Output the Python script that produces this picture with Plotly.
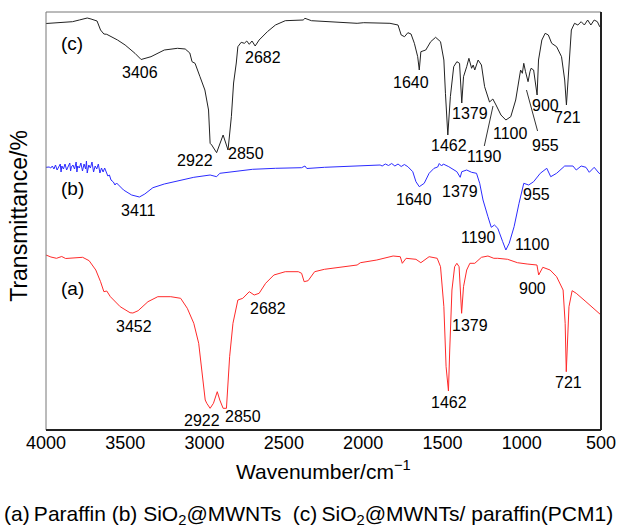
import plotly.graph_objects as go

# ---------------- data (wavenumber in cm-1, transmittance in arbitrary offset units) ----------------
wn_c = [4000, 3938, 3876, 3833, 3790, 3740, 3716, 3678, 3656, 3635, 3617, 3594, 3549, 3501, 3439, 3400,
        3338, 3254, 3171, 3122, 3093, 3079, 3060, 3029, 2998, 2975, 2965, 2955, 2924, 2883, 2852, 2831,
        2817, 2800, 2790, 2769, 2749, 2734, 2718, 2701, 2681, 2656, 2604, 2553, 2491, 2378, 2367, 2326,
        2182, 2038, 1996, 1831, 1780, 1760, 1739, 1718, 1698, 1677, 1656, 1646, 1636, 1605, 1574, 1543,
        1512, 1491, 1481, 1466, 1450, 1429, 1409, 1392, 1378, 1367, 1347, 1333, 1316, 1306, 1296, 1275,
        1254, 1234, 1203, 1182, 1162, 1131, 1100, 1069, 1038, 1017, 1007, 996, 987, 976, 960, 948, 941,
        925, 903, 894, 873, 852, 832, 811, 780, 749, 729, 718, 708, 687, 667, 646, 625, 605, 584, 564,
        543, 523, 508, 500]
t_c = [406.5, 407, 407.5, 408.3, 410, 412, 411, 409, 400, 396, 395.7, 394, 390, 385, 376.7, 370.5,
       373.3, 380, 381.7, 381, 377, 368.3, 366.7, 353.3, 340, 320, 286.7, 285, 277.3, 295, 280, 313.3,
       347, 367, 383.3, 387.7, 386.7, 389, 385.7, 389, 384, 390, 398.3, 405, 409.3, 410, 411.7, 409.3,
       408.3, 406.7, 407.3, 406.7, 405, 395, 393.3, 397.3, 396, 386.7, 373.3, 360, 378.3, 380, 388.3, 392.7,
       388.3, 370, 336.7, 295, 333.3, 363.3, 368.3, 366.7, 327, 353.3, 363.3, 371.7, 361.7, 365, 360, 370,
       365, 343.3, 328, 331, 325, 315, 310, 313.3, 330, 353.3, 360, 356.7, 366.7, 358.3, 348.3, 358.3, 361.7,
       360, 335, 370, 390, 396.7, 395, 386.7, 383.3, 373.3, 350, 325, 353.3, 400, 406.7, 405, 408.3, 405, 410, 405,
       410, 408.3, 403.3, 402]

wn_b = [4000, 3990, 3980, 3970, 3960, 3950, 3940, 3930, 3920, 3910, 3905, 3900, 3890, 3880, 3870, 3860,
        3850, 3845, 3840, 3830, 3820, 3810, 3805, 3800, 3790, 3780, 3770, 3760, 3750, 3745, 3740, 3730,
        3720, 3710, 3700, 3690, 3680, 3670, 3660, 3650, 3640, 3630, 3620, 3610, 3600, 3590, 3575, 3565,
        3555, 3511, 3460, 3411, 3377, 3326, 3254, 3171, 3068, 2965, 2924, 2904, 2800, 2697, 2553, 2388,
        2367, 2355, 2244, 1893, 1880, 1860, 1840, 1820, 1800, 1780, 1760, 1740, 1718, 1687, 1667, 1646,
        1615, 1584, 1553, 1530, 1520, 1512, 1505, 1495, 1460, 1409, 1388, 1378, 1347, 1316, 1285, 1265,
        1244, 1213, 1192, 1172, 1151, 1120, 1100, 1079, 1048, 1017, 987, 956, 925, 883, 842, 817, 780,
        729, 677, 656, 625, 595, 574, 543, 512, 500]
t_b = [262.7, 262.5, 263, 262, 264, 261, 265, 260, 263, 266, 258, 264, 261, 266, 260, 263,
       267, 259, 263, 265, 261, 268, 258, 264, 262, 267, 259, 266, 261, 269, 257, 265,
       262, 268, 258, 264, 261, 266, 257, 262, 258, 262, 257, 254, 255, 250, 248, 245,
       247, 240, 235, 233, 236, 242.3, 246, 249, 252.7, 255, 253.3, 256.7, 259, 260.7, 261.7, 262.3,
       264, 261.5, 262.7, 265, 264, 266, 264.5, 266.5, 264, 266, 263.5, 265.5, 263.3, 258.3, 248.3, 243.3,
       246.7, 256.7, 261.7, 263, 266.5, 265, 264, 266, 263.3, 258.3, 252.7, 258.3, 260, 257.7, 256.7, 246.7,
       230, 213.3, 202.7, 205, 201.7, 188.3, 180, 186.7, 203.3, 226.7, 246.7, 245, 248.3, 256.7, 261.7, 253.3, 256.7,
       264, 264, 260, 264, 262.7, 257.7, 262.7, 256.7, 256]

wn_a = [4000, 3969, 3934, 3901, 3876, 3831, 3769, 3728, 3686, 3656, 3635, 3617, 3594, 3532, 3470, 3452,
        3419, 3357, 3295, 3213, 3151, 3109, 3068, 3037, 3017, 2996, 2986, 2965, 2944, 2920, 2904, 2883,
        2862, 2842, 2821, 2790, 2759, 2718, 2687, 2656, 2615, 2563, 2491, 2409, 2388, 2372, 2347, 2306,
        2244, 2038, 2017, 1914, 1811, 1766, 1753, 1729, 1667, 1636, 1584, 1533, 1512, 1491, 1477, 1462,
        1454, 1440, 1423, 1409, 1395, 1379, 1367, 1347, 1327, 1296, 1254, 1213, 1176, 1151, 1089, 1027,
        966, 904, 893, 867, 821, 780, 739, 726, 719, 702, 682, 656, 595, 502, 500]
t_a = [175, 173, 171.7, 173.5, 171.5, 171.7, 172.7, 169.3, 160, 148.3, 138.3, 139, 133.3, 123.3, 117.3, 117,
       119.3, 128.3, 133.3, 133.3, 131.7, 121.7, 106.7, 86.7, 56.7, 30, 26.7, 21.7, 26.7, 38.3, 30, 21.7,
       21.7, 73.3, 106.7, 130, 131.7, 138.3, 135, 136.7, 146.7, 155, 158.3, 158.3, 156.7, 148.3, 149.3, 158.3,
       160.7, 165, 167.3, 170, 174, 173.3, 166.7, 171.7, 170.7, 167.3, 173.3, 171.7, 163.3, 123.3, 63.3, 39,
       80, 140, 163.3, 166.7, 163.3, 116.7, 143.3, 160, 166.7, 166.7, 172.7, 174, 171.7, 171.7, 170.7, 167.3,
       166, 165, 155, 162.7, 160, 153.3, 140, 106.7, 58.3, 123.3, 139.3, 136.7, 128.3, 115, 115]

tick_vals = [4000, 3500, 3000, 2500, 2000, 1500, 1000, 500]
tick_text = [str(v) for v in tick_vals]

curve_tags = ["(c)", "(b)", "(a)"]
peak_labels_c = ["3406", "2922", "2850", "2682", "1640", "1462", "1379", "1190", "1100", "955", "900", "721"]
peak_labels_b = ["3411", "1640", "1379", "955", "1190", "1100"]
peak_labels_a = ["3452", "2922", "2850", "2682", "1462", "1379", "900", "721"]

# ---------------- layout helpers (positions of the text labels, in data coords) ----------------
tag_pos = [(3833, 387), (3833, 242), (3833, 142)]
pos_c = [(3406, 358), (3060, 270), (2738, 277), (2633, 373), (1700, 348), (1458, 285), (1329, 317),
         (1236, 274), (1069, 297), (852, 285), (852, 325), (710, 313)]
pos_b = [(3419, 220), (1677, 230.7), (1392, 238.3), (904, 236), (1275, 192.3), (935, 185.7)]
pos_a = [(3443, 103.3), (3017, 10), (2759, 13.3), (2598, 121.7), (1460, 27.3), (1327, 105), (935, 141.7), (708, 47.3)]
leaders = [((1236, 284), (1181, 324)), ((970, 340), (900, 299))]

FONT = "Liberation Sans, Arial, Helvetica, sans-serif"

fig = go.Figure()
fig.add_trace(go.Scatter(x=wn_c, y=t_c, mode="lines", line=dict(color="#222222", width=1), showlegend=False))
fig.add_trace(go.Scatter(x=wn_b, y=t_b, mode="lines", line=dict(color="#2b2bff", width=1), showlegend=False))
fig.add_trace(go.Scatter(x=wn_a, y=t_a, mode="lines", line=dict(color="#ff2a2a", width=1), showlegend=False))

annotations = []
for txt, (x, y) in zip(curve_tags, tag_pos):
    annotations.append(dict(x=x, y=y, text=txt, showarrow=False, font=dict(size=19, color="black", family=FONT)))
for labels, poss in ((peak_labels_c, pos_c), (peak_labels_b, pos_b), (peak_labels_a, pos_a)):
    for txt, (x, y) in zip(labels, poss):
        annotations.append(dict(x=x, y=y, text=txt, showarrow=False, font=dict(size=16, color="black", family=FONT)))

annotations.append(dict(xref="paper", yref="paper", x=0.5, y=-0.0957, xanchor="center", yanchor="middle",
                        text="Wavenumber/cm<sup>\u22121</sup>", showarrow=False,
                        font=dict(size=21, color="black", family=FONT)))
annotations.append(dict(xref="paper", yref="paper", x=-0.049, y=0.512, xanchor="center", yanchor="middle",
                        textangle=-90, text="Transmittance/%", showarrow=False,
                        font=dict(size=23, color="black", family=FONT)))
annotations.append(dict(xref="paper", yref="paper", x=0.4735, y=-0.203, xanchor="center", yanchor="middle",
                        text="(a)\u2009Paraffin (b) SiO<sub>2</sub>@MWNTs&nbsp;&nbsp;(c)\u2009SiO<sub>2</sub>@MWNTs/ paraffin(PCM1)",
                        showarrow=False, font=dict(size=21, color="black", family=FONT)))

shapes = [dict(type="rect", xref="paper", yref="paper", x0=0, y0=0, x1=1, y1=1,
               line=dict(color="#777777", width=1)),
          dict(type="line", xref="paper", yref="paper", x0=1, y0=0, x1=1, y1=1,
               line=dict(color="#222222", width=2)),
          dict(type="line", xref="paper", yref="paper", x0=0, y0=0, x1=1, y1=0,
               line=dict(color="#222222", width=2))]
for (x0, y0), (x1, y1) in leaders:
    shapes.append(dict(type="line", xref="x", yref="y", x0=x0, y0=y0, x1=x1, y1=y1,
                       line=dict(color="#333333", width=1)))

fig.update_layout(
    width=628, height=528,
    margin=dict(l=46, r=16, t=12, b=98),
    paper_bgcolor="white", plot_bgcolor="white",
    annotations=annotations, shapes=shapes,
    xaxis=dict(range=[4000, 500], tickvals=tick_vals, ticktext=tick_text, showgrid=False, zeroline=False,
               showline=False, ticks="", tickfont=dict(size=18, color="black", family=FONT)),
    yaxis=dict(range=[0, 418], showticklabels=False, showgrid=False, zeroline=False, showline=False, ticks=""),
)

fig.write_html("out.html")
